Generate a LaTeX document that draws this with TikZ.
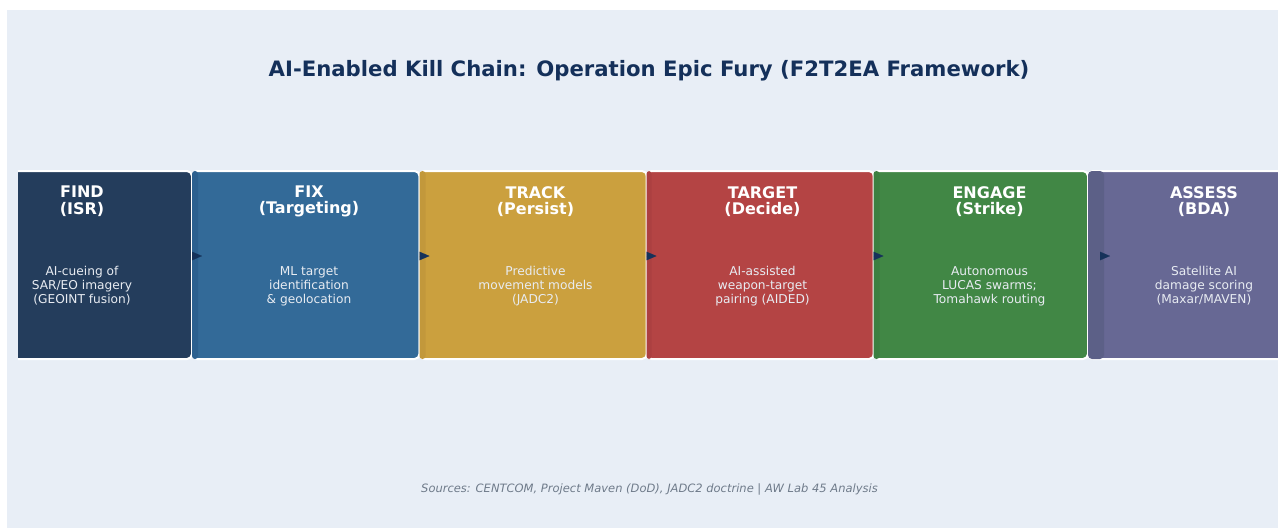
\documentclass[tikz,border=0pt]{standalone}
\usepackage{fontspec}
\setmainfont{DejaVu Sans}
\usetikzlibrary{arrows.meta,calc}
\definecolor{bgc}{HTML}{E8EEF6}
\definecolor{cfind}{HTML}{243D5C}
\definecolor{cfix}{HTML}{336A98}
\definecolor{ctrack}{HTML}{CBA03E}
\definecolor{ctarget}{HTML}{B44444}
\definecolor{cengage}{HTML}{418745}
\definecolor{cassess}{HTML}{676894}
\definecolor{sfix}{HTML}{2C608F}
\definecolor{strack}{HTML}{C2983B}
\definecolor{starget}{HTML}{AC4041}
\definecolor{sengage}{HTML}{3C7F41}
\definecolor{sassess}{HTML}{5C6087}
\definecolor{carrow}{HTML}{16325A}
\definecolor{ctitle}{HTML}{14305A}
\definecolor{cfoot}{HTML}{6F7B8A}
\definecolor{cbody}{HTML}{E8ECF2}
\tikzset{
  stagebox/.style={draw=white, line width=2pt, rounded corners=5pt, minimum height=188pt, inner sep=0pt},
  headtext/.style={text=white, font=\fontsize{16}{16.7}\selectfont\bfseries, align=center, inner sep=0pt},
  bodytext/.style={text=cbody, font=\fontsize{12.2}{14}\selectfont, align=center, inner sep=0pt},
  flowarrow/.style={-{Triangle[length=10pt,width=8.5pt]}, draw=carrow, fill=carrow, line width=0.1pt},
}
\begin{document}
\begin{tikzpicture}[x=1pt,y=-1pt]
\useasboundingbox (0,0) rectangle (1278,528);
\fill[white] (0,0) rectangle (1278,528);
\fill[bgc] (7,10) rectangle (1278,528);

\node[text=ctitle, font=\fontsize{21.2}{24}\selectfont\bfseries] (title) at (649,70.5) {AI-Enabled Kill Chain: Operation Epic Fury (F2T2EA Framework)};

\begin{scope}
\clip (18,0) rectangle (1278,528);
\node[stagebox, fill=cfind, minimum width=232pt] (find) at (76,265) {};
\node[stagebox, fill=cfix, minimum width=227.5pt] (fix) at (305.75,265) {};
\node[stagebox, fill=ctrack, minimum width=227.5pt] (track) at (533.25,265) {};
\node[stagebox, fill=ctarget, minimum width=227.5pt] (target) at (760.25,265) {};
\node[stagebox, fill=cengage, minimum width=214.5pt] (engage) at (980.75,265) {};
\node[stagebox, fill=cassess, minimum width=232pt] (assess) at (1204,265) {};
\end{scope}

% darker left strips
\fill[sfix, rounded corners=3pt] ([xshift=1pt,yshift=-1pt]fix.north west) rectangle ([xshift=7pt,yshift=1pt]fix.south west);
\fill[strack, rounded corners=3pt] ([xshift=1pt,yshift=-1pt]track.north west) rectangle ([xshift=7pt,yshift=1pt]track.south west);
\fill[starget, rounded corners=3pt] ([xshift=1pt,yshift=-1pt]target.north west) rectangle ([xshift=6pt,yshift=1pt]target.south west);
\fill[sengage, rounded corners=3pt] ([xshift=1pt,yshift=-1pt]engage.north west) rectangle ([xshift=7pt,yshift=1pt]engage.south west);
\fill[sassess, rounded corners=4pt] ([xshift=1pt,yshift=-1pt]assess.north west) rectangle ([xshift=17pt,yshift=1pt]assess.south west);

% arrows
\draw[flowarrow] ([xshift=1pt,yshift=9pt]fix.west) -- ([xshift=11pt,yshift=9pt]fix.west);
\draw[flowarrow] ([xshift=1pt,yshift=9pt]track.west) -- ([xshift=11pt,yshift=9pt]track.west);
\draw[flowarrow] ([xshift=1pt,yshift=9pt]target.west) -- ([xshift=11pt,yshift=9pt]target.west);
\draw[flowarrow] ([xshift=1pt,yshift=9pt]engage.west) -- ([xshift=11pt,yshift=9pt]engage.west);
\draw[flowarrow] ([xshift=13pt,yshift=9pt]assess.west) -- ([xshift=23pt,yshift=9pt]assess.west);

% headings
\node[headtext] (h1) at (82,201.5) {FIND\\(ISR)};
\node[headtext] (h2) at (309,201.5) {FIX\\(Targeting)};
\node[headtext] (h3) at (535.5,201.5) {TRACK\\(Persist)};
\node[headtext] (h4) at (762.5,201.5) {TARGET\\(Decide)};
\node[headtext] (h5) at (989.5,201.5) {ENGAGE\\(Strike)};
\node[headtext] (h6) at (1204,201.5) {ASSESS\\(BDA)};

% bodies
\node[bodytext] (b1) at (82,286) {AI-cueing of\\SAR/EO imagery\\(GEOINT fusion)};
\node[bodytext] (b2) at (309,286) {ML target\\identification\\\& geolocation};
\node[bodytext] (b3) at (535.5,286) {Predictive\\movement models\\(JADC2)};
\node[bodytext] (b4) at (762.5,286) {AI-assisted\\weapon-target\\pairing (AIDED)};
\node[bodytext] (b5) at (989.5,286) {Autonomous\\LUCAS swarms;\\Tomahawk routing};
\node[bodytext] (b6) at (1204,286) {Satellite AI\\damage scoring\\(Maxar/MAVEN)};

\node[text=cfoot, font=\fontsize{11.5}{13}\selectfont\itshape] (foot) at (649.5,489) {Sources: CENTCOM, Project Maven (DoD), JADC2 doctrine | AW Lab 45 Analysis};
\end{tikzpicture}
\end{document}
